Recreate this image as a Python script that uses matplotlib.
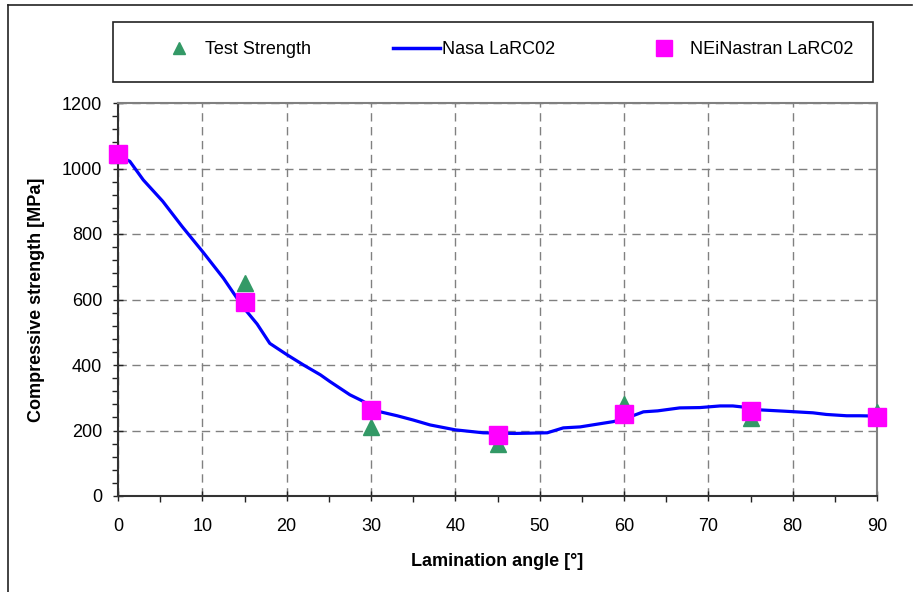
import numpy as np
import matplotlib
matplotlib.use("Agg")
import matplotlib.pyplot as plt
from matplotlib.lines import Line2D
from matplotlib.patches import Rectangle
from matplotlib.ticker import MultipleLocator

plt.rcParams['font.family'] = ['Liberation Sans', 'DejaVu Sans']

# test data (triangles)
test_angle = [0, 15, 30, 45, 60, 75, 90]
test_strength = [1040, 650, 212, 160, 280, 238, 258]

# NEiNastran LaRC02 (squares)
nei_angle = [0, 15, 30, 45, 60, 75, 90]
nei_strength = [1044, 591, 262, 187, 251, 260, 242]

# Nasa LaRC02 curve
nasa_angle = [0, 1.4, 3, 5.3, 7.6, 10.1, 12.5, 14.8, 16.5, 18, 20, 22, 24, 25.1,
              27.5, 29, 31.1, 33.1, 35, 37, 40, 43.3, 47, 50.9, 52.8, 54.8, 56.5,
              58.7, 60, 62.3, 64, 66.6, 69, 71.4, 72.9, 74, 76.1, 79, 82.4, 84,
              86.4, 88, 90]
nasa_strength = [1040, 1022, 965, 900, 823, 744, 665, 578, 525, 466, 432, 400, 370, 350,
                 309, 290, 257, 245, 232, 217, 202, 193, 191, 193, 208, 211, 218,
                 227, 235, 257, 260, 269, 270, 275, 275, 272, 263, 259, 254, 249,
                 245, 245, 244]

fs = 13

fig = plt.figure(figsize=(9.14, 5.92), dpi=100)
ax = fig.add_axes([118/914, 1-496/592, (877-118)/914, (496-103)/592])

ax.plot(nasa_angle, nasa_strength, color='#0000ff', lw=2.3, zorder=3, clip_on=False)
ax.plot(test_angle, test_strength, ls='none', marker='^', ms=12, color='#339966',
        mec='#339966', zorder=4, clip_on=False)
ax.plot(nei_angle, nei_strength, ls='none', marker='s', ms=13, color='#ff00ff',
        mec='#ff00ff', zorder=5, clip_on=False)

ax.set_xlim(0, 90)
ax.set_ylim(0, 1200)
ax.xaxis.set_major_locator(MultipleLocator(10))
ax.xaxis.set_minor_locator(MultipleLocator(5))
ax.yaxis.set_major_locator(MultipleLocator(200))
ax.yaxis.set_minor_locator(MultipleLocator(40))
ax.tick_params(which='major', direction='inout', length=7, width=1, labelsize=fs,
               color='#222222')
ax.tick_params(axis='x', which='major', pad=12)
ax.tick_params(axis='y', which='major', pad=8)
ax.tick_params(which='minor', direction='out', length=4, width=1, color='#222222')
ax.grid(True, which='major', color='#808080', ls=(0, (6, 4)), lw=1)
ax.set_axisbelow(True)

for s in ['left', 'bottom']:
    ax.spines[s].set_color('#333333')
    ax.spines[s].set_linewidth(1.5)
for s in ['top', 'right']:
    ax.spines[s].set_color('#808080')
    ax.spines[s].set_linewidth(1.5)

ax.set_xlabel('Lamination angle [°]', fontsize=fs, fontweight='bold', labelpad=13)
ax.set_ylabel('Compressive strength [MPa]', fontsize=fs, fontweight='bold', labelpad=12)

# outer frame (top + left)
fig.add_artist(Line2D([8/914, 8/914], [0, 1-5/592], color='#222222', lw=1.2))
fig.add_artist(Line2D([8/914, 912/914], [1-5/592, 1-5/592], color='#222222', lw=1.2))

# legend box
fig.add_artist(Rectangle((113/914, 1-82/592), 760/914, 60/592, transform=fig.transFigure,
                         fill=False, ec='#222222', lw=1.2))

ly = 1-50/592
h1 = Line2D([], [], ls='none', marker='^', ms=9, color='#339966')
h2 = Line2D([], [], color='#0000ff', lw=2.5)
h3 = Line2D([], [], ls='none', marker='s', ms=12, color='#ff00ff')
for h, lab, x0, hl, pad in [(h1, 'Test Strength', 170, 1.0, 0.95),
                            (h2, 'Nasa LaRC02', 393, 2.6, 0.12),
                            (h3, 'NEiNastran LaRC02', 655, 1.0, 0.95)]:
    fig.legend([h], [lab], loc='center left', bbox_to_anchor=(x0/914, ly),
               frameon=False, borderpad=0, borderaxespad=0, handlelength=hl,
               handletextpad=pad, numpoints=1, fontsize=fs)

plt.savefig('out.png', dpi=100)
